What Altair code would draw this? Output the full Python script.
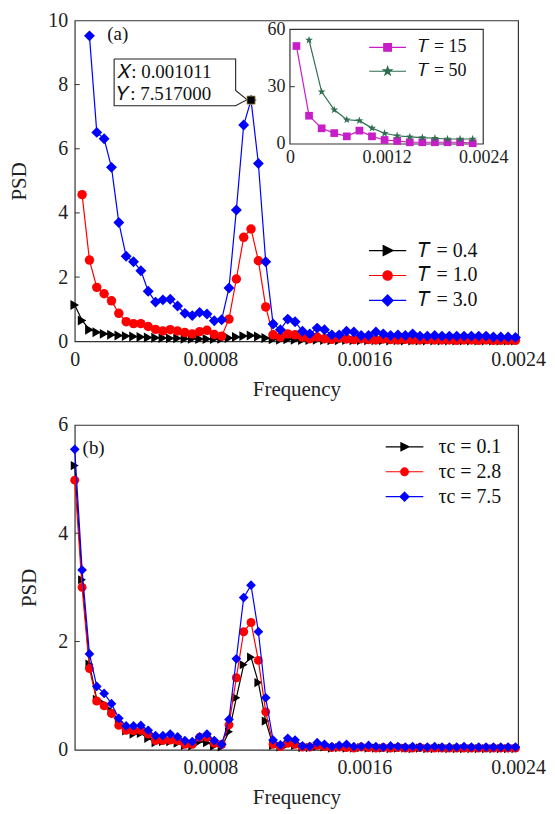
import altair as alt
import pandas as pd

FONT = "Liberation Serif"

# ---------------- data ----------------
# frequency bins (in units of 1e-4)
FREQ_E4 = [0.942, 1.324, 1.706, 2.088, 2.470, 2.852, 3.234, 3.616, 3.998, 4.380,
           4.762, 5.144, 5.526, 5.908, 6.290, 6.672, 7.054, 7.436, 7.818, 8.200,
           8.582, 8.964, 9.346, 9.728, 10.110, 10.492, 10.874, 11.256, 11.638, 12.020,
           12.402, 12.784, 13.166, 13.548, 13.930, 14.312, 14.694, 15.076, 15.458, 15.840,
           16.222, 16.604, 16.986, 17.368, 17.750, 18.132, 18.514, 18.896, 19.278, 19.660,
           20.042, 20.424, 20.806, 21.188, 21.570, 21.952, 22.334, 22.716, 23.098, 23.480,
           23.862]

A_T04 = [1.13, 0.65, 0.36, 0.28, 0.23, 0.20, 0.18, 0.16, 0.15, 0.13,
         0.12, 0.11, 0.10, 0.09, 0.09, 0.08, 0.08, 0.07, 0.07, 0.07,
         0.08, 0.10, 0.13, 0.16, 0.18, 0.15, 0.10, 0.06, 0.05, 0.06,
         0.05, 0.04, 0.04, 0.05, 0.04, 0.03, 0.03, 0.04, 0.03, 0.03,
         0.03, 0.03, 0.03, 0.02, 0.03, 0.02, 0.02, 0.02, 0.02, 0.02,
         0.02, 0.02, 0.02, 0.02, 0.02, 0.02, 0.02, 0.02, 0.02, 0.02,
         0.02]
A_T10 = [None, 4.57, 2.53, 1.68, 1.48, 1.26, 0.87, 0.61, 0.55, 0.55,
         0.46, 0.37, 0.32, 0.36, 0.32, 0.27, 0.23, 0.30, 0.34, 0.21,
         0.16, 0.69, 1.94, 3.24, 3.50, 2.51, 1.07, 0.20, 0.13, 0.23,
         0.20, 0.13, 0.08, 0.13, 0.08, 0.06, 0.10, 0.07, 0.05, 0.08,
         0.05, 0.04, 0.07, 0.05, 0.04, 0.06, 0.04, 0.04, 0.05, 0.04,
         0.04, 0.04, 0.03, 0.04, 0.04, 0.03, 0.04, 0.03, 0.03, 0.03,
         0.03]
A_T30 = [None, None, 9.52, 6.51, 6.31, 5.42, 3.70, 2.65, 2.48, 2.20,
         1.56, 1.22, 1.29, 1.31, 1.10, 0.87, 0.80, 0.90, 0.85, 0.64,
         0.67, 1.66, 4.09, 6.74, 7.517, 5.54, 2.48, 0.54, 0.36, 0.69,
         0.61, 0.31, 0.23, 0.41, 0.36, 0.20, 0.20, 0.31, 0.29, 0.18,
         0.18, 0.29, 0.23, 0.18, 0.20, 0.18, 0.23, 0.16, 0.16, 0.18,
         0.16, 0.16, 0.16, 0.16, 0.16, 0.16, 0.16, 0.13, 0.13, 0.13,
         0.12]

B_01 = [5.25, 3.14, 1.58, 0.93, 0.85, 0.72, 0.52, 0.35, 0.29, 0.30,
        0.21, 0.13, 0.15, 0.15, 0.12, 0.08, 0.07, 0.15, 0.13, 0.07,
        0.05, 0.33, 0.96, 1.57, 1.71, 1.24, 0.53, 0.08, 0.05, 0.10,
        0.08, 0.04, 0.04, 0.06, 0.05, 0.03, 0.04, 0.03, 0.03, 0.04,
        0.03, 0.03, 0.03, 0.02, 0.03, 0.03, 0.02, 0.03, 0.02, 0.02,
        0.03, 0.02, 0.02, 0.02, 0.02, 0.02, 0.02, 0.02, 0.02, 0.02,
        0.02]
B_28 = [4.98, 3.00, 1.50, 0.90, 0.81, 0.67, 0.45, 0.36, 0.35, 0.36,
        0.29, 0.17, 0.17, 0.18, 0.17, 0.10, 0.10, 0.23, 0.23, 0.12,
        0.10, 0.46, 1.33, 2.18, 2.35, 1.65, 0.70, 0.10, 0.06, 0.12,
        0.10, 0.05, 0.05, 0.08, 0.06, 0.04, 0.05, 0.04, 0.03, 0.05,
        0.04, 0.03, 0.04, 0.03, 0.04, 0.03, 0.03, 0.04, 0.03, 0.03,
        0.03, 0.03, 0.03, 0.03, 0.03, 0.03, 0.03, 0.03, 0.03, 0.03,
        0.03]
B_75 = [5.55, 3.32, 1.77, 1.17, 1.04, 0.85, 0.58, 0.44, 0.44, 0.45,
        0.36, 0.26, 0.26, 0.29, 0.24, 0.17, 0.15, 0.24, 0.29, 0.17,
        0.10, 0.56, 1.68, 2.81, 3.04, 2.18, 0.96, 0.18, 0.09, 0.21,
        0.18, 0.07, 0.06, 0.13, 0.10, 0.06, 0.08, 0.10, 0.06, 0.06,
        0.08, 0.06, 0.05, 0.07, 0.06, 0.05, 0.06, 0.05, 0.05, 0.06,
        0.05, 0.05, 0.05, 0.06, 0.05, 0.05, 0.05, 0.05, 0.05, 0.05,
        0.05]

# inset
IN_F15_E4 = [0.808, 2.371, 3.934, 5.497, 7.060, 8.623, 10.186, 11.749, 13.312,
             14.875, 16.438, 18.001, 19.564, 21.127, 22.690]
IN_T15 = [51.3, 14.8, 8.2, 5.7, 4.0, 7.0, 4.0, 2.1, 1.6, 0.9, 0.9, 0.9, 0.9, 0.9, 0.4]
IN_F50_E4 = [2.371, 3.934, 5.497, 7.060, 8.623, 10.186, 11.749, 13.312,
             14.875, 16.438, 18.001, 19.564, 21.127, 22.690]
IN_T50 = [54.4, 27.3, 17.9, 12.7, 12.2, 8.3, 5.6, 4.3, 3.7, 3.3, 3.0, 2.6, 2.6, 2.6]

LEG_A = ["\U0001D447 = 0.4", "\U0001D447 = 1.0", "\U0001D447 = 3.0"]
LEG_B = ["\u03c4c = 0.1", "\u03c4c = 2.8", "\u03c4c = 7.5"]
LEG_IN = ["\U0001D447 = 15", "\U0001D447 = 50"]

COL3 = ["#000000", "#ff0000", "#0000ff"]
COL_IN = ["#c81ec8", "#2f6e50"]

PEAK_X = 0.001011
PEAK_Y = 7.517

XDOM = [0.0000942, 0.0024]
X_TICKS_A = [0.0000942, 0.0008, 0.0016, 0.0024]
X_TICKS_B = [0.0008, 0.0016, 0.0024]
YDOM_A = [0, 10]
Y_TICKS_A = [0, 2, 4, 6, 8, 10]
YDOM_B = [0, 6]
Y_TICKS_B = [0, 2, 4, 6]
IN_XDOM = [0, 0.0024]
IN_X_TICKS = [0, 0.0012, 0.0024]
IN_YDOM = [0, 60]
IN_Y_TICKS = [0, 30, 60]

# data tip annotation (data coordinates)
TIP_BOX_F = [0.000299, 0.000931, 0.000931, 0.000990, 0.000931, 0.000299, 0.000299]
TIP_BOX_P = [8.80, 8.80, 7.82, 7.53, 7.34, 7.34, 8.80]
TIP_TEXT_F = 0.000315
TIP_TEXT_P = [8.40, 7.71]

# ---------------- helpers ----------------
FREQ = [v * 1e-4 for v in FREQ_E4]

STAR = ("M0,-1L0.235,-0.324L0.951,-0.309L0.38,0.124L0.588,0.809L0,0.4"
        "L-0.588,0.809L-0.38,0.124L-0.951,-0.309L-0.235,-0.324Z")
TRI = "M-0.8,-0.9L1,0L-0.8,0.9Z"
CIRC = "M0.85,0A0.85,0.85,0,1,1,-0.85,0A0.85,0.85,0,1,1,0.85,0Z"
DIAM = "M0,-1L1,0L0,1L-1,0Z"
SQR = "M-0.85,-0.85H0.85V0.85H-0.85Z"


def frame(xs, ys):
    return pd.DataFrame({"f": xs, "psd": ys}).dropna()


def series(df, color, shape, size, xs, ys, xa, ya):
    enc = dict(x=alt.X("f:Q", scale=xs, axis=xa), y=alt.Y("psd:Q", scale=ys, axis=ya))
    line = alt.Chart(df).mark_line(color=color, strokeWidth=1.2).encode(**enc)
    pts = alt.Chart(df).mark_point(shape=shape, filled=True, color=color, size=size,
                                   opacity=1, strokeWidth=0.6).encode(**enc)
    return [line, pts]


def inward_ticks(xs, ys, xa, ya, x0, y0, xvals, yvals):
    """Small MATLAB-style ticks pointing into the plot, at the axis tick values."""
    layers = []
    if yvals:
        layers.append(alt.Chart(pd.DataFrame({"f": [x0] * len(yvals), "psd": yvals})).mark_tick(
            orient="horizontal", size=5, thickness=1, xOffset=2.5, color="#333", opacity=1).encode(
            x=alt.X("f:Q", scale=xs, axis=xa), y=alt.Y("psd:Q", scale=ys, axis=ya)))
    if xvals:
        layers.append(alt.Chart(pd.DataFrame({"f": xvals, "psd": [y0] * len(xvals)})).mark_tick(
            orient="vertical", size=5, thickness=1, yOffset=-2.5, color="#333", opacity=1).encode(
            x=alt.X("f:Q", scale=xs, axis=xa), y=alt.Y("psd:Q", scale=ys, axis=ya)))
    return layers


def legend_layer(labels, colors, paths, x, y, size, fsize, loff, rpad):
    def leg():
        return alt.Legend(title=None, orient="none", legendX=x, legendY=y, direction="vertical",
                          symbolSize=size, symbolStrokeWidth=1.2, symbolOpacity=1,
                          labelFont=FONT, labelFontSize=fsize, labelColor="#111",
                          labelOffset=loff, rowPadding=rpad, padding=0)
    return alt.Chart(pd.DataFrame({"lab": labels})).transform_filter("false").mark_point(
        filled=True, opacity=1).encode(
        shape=alt.Shape("lab:N", scale=alt.Scale(domain=labels, range=paths), legend=leg()),
        fill=alt.Fill("lab:N", scale=alt.Scale(domain=labels, range=colors), legend=leg()),
        stroke=alt.Stroke("lab:N", scale=alt.Scale(domain=labels, range=colors), legend=leg()))


LABEL_EXPR = "datum.value < 0.0001 ? '0' : format(datum.value, '.4f')"
INDEP = dict(shape="independent", fill="independent", stroke="independent")

W = 445
Y_TITLE_PAD = 18

# ---------------- panel (a) ----------------
HA = 322
XA = alt.Scale(domain=XDOM, nice=False, zero=False)
YA = alt.Scale(domain=YDOM_A, nice=False)
xax_a = alt.Axis(values=X_TICKS_A, labelExpr=LABEL_EXPR, title="Frequency", labelFlush=False,
                 labelOverlap=False, labelPadding=8, titlePadding=9)
yax_a = alt.Axis(values=Y_TICKS_A, title="PSD", labelPadding=7, titlePadding=Y_TITLE_PAD)

main_layers = inward_ticks(XA, YA, xax_a, yax_a, XDOM[0], YDOM_A[0],
                           X_TICKS_A[1:-1], Y_TICKS_A[1:-1])
main_layers += series(frame(FREQ, A_T04), COL3[0], "triangle-right", 100, XA, YA, xax_a, yax_a)
main_layers += series(frame(FREQ, A_T10), COL3[1], "circle", 90, XA, YA, xax_a, yax_a)
main_layers += series(frame(FREQ, A_T30), COL3[2], "diamond", 120, XA, YA, xax_a, yax_a)

enc_a = dict(x=alt.X("f:Q", scale=XA, axis=xax_a), y=alt.Y("psd:Q", scale=YA, axis=yax_a))
tip_box = alt.Chart(pd.DataFrame({"f": TIP_BOX_F, "psd": TIP_BOX_P, "o": list(range(len(TIP_BOX_F)))})
                    ).mark_line(color="#222", strokeWidth=1.1).encode(order="o:Q", **enc_a)
tip_text = alt.Chart(pd.DataFrame({"f": [TIP_TEXT_F] * 2, "psd": TIP_TEXT_P,
                                   "t": ["\U0001D44B: %.6f" % PEAK_X, "\U0001D44C: %.6f" % PEAK_Y]})
                     ).mark_text(align="left", baseline="middle", font=FONT, fontSize=19,
                                 color="#111").encode(text="t:N", **enc_a)
tip_pt = alt.Chart(pd.DataFrame({"f": [PEAK_X], "psd": [PEAK_Y]})).mark_point(
    shape="square", filled=True, color="#000", size=70, stroke="#d8c070", strokeWidth=0.8,
    opacity=1).encode(**enc_a)
lab_a = alt.Chart(pd.DataFrame({"f": [0.000263], "psd": [9.57], "t": ["(a)"]})).mark_text(
    align="left", baseline="middle", font=FONT, fontSize=19, color="#111").encode(text="t:N", **enc_a)
leg_a = legend_layer(LEG_A, COL3, ["M-3.4,0H3.4" + TRI, "M-3.4,0H3.4" + CIRC, "M-3.4,0H3.4" + DIAM],
                     304, 221, 121, 20, 21, 5)

main_a = alt.layer(*main_layers, tip_box, tip_text, tip_pt, lab_a, leg_a)

# inset
IN_LEFT, IN_RIGHT = 216, 410
IN_TOP, IN_BOT = 9, 124
IX = alt.Scale(domain=IN_XDOM, range=[IN_LEFT, IN_RIGHT], nice=False, zero=False)
IY = alt.Scale(domain=IN_YDOM, range=[IN_BOT, IN_TOP], nice=False)
ixa = alt.Axis(orient="bottom", offset=-(HA - IN_BOT), values=IN_X_TICKS,
               labelExpr="datum.value == 0 ? '0' : format(datum.value, '.4f')", title=None,
               labelFlush=False, labelOverlap=False, labelFontSize=18, labelPadding=5)
iya = alt.Axis(orient="left", offset=-IN_LEFT, values=IN_Y_TICKS, title=None, labelFontSize=18,
               labelPadding=5)
in_frame = alt.Chart(pd.DataFrame({"f": [IN_XDOM[0]], "f2": [IN_XDOM[1]],
                                   "psd": [IN_YDOM[0]], "psd2": [IN_YDOM[1]]})).mark_rect(
    fill="white", stroke="#333", strokeWidth=1.2).encode(
    x=alt.X("f:Q", scale=IX, axis=ixa), x2="f2:Q", y=alt.Y("psd:Q", scale=IY, axis=iya), y2="psd2:Q")
in_layers = inward_ticks(IX, IY, ixa, iya, IN_XDOM[0], IN_YDOM[0], [], IN_Y_TICKS[1:-1])
in_layers += series(frame([v * 1e-4 for v in IN_F15_E4], IN_T15), COL_IN[0], "square", 60, IX, IY, ixa, iya)
in_layers += series(frame([v * 1e-4 for v in IN_F50_E4], IN_T50), COL_IN[1], STAR, 70, IX, IY, ixa, iya)
leg_in = legend_layer(LEG_IN, COL_IN, ["M-4.1,0H4.1" + SQR, "M-4.1,0H4.1" + STAR],
                      305, 18, 81, 18, 22, 6)
inset = alt.layer(in_frame, *in_layers, leg_in)

panel_a = alt.layer(main_a, inset).resolve_scale(
    x="independent", y="independent", **INDEP).properties(width=W, height=HA)

# ---------------- panel (b) ----------------
HB = 326
YB = alt.Scale(domain=YDOM_B, nice=False)
xax_b = alt.Axis(values=X_TICKS_B, format=".4f", title="Frequency", labelFlush=False,
                 labelOverlap=False, labelPadding=8, titlePadding=9)
yax_b = alt.Axis(values=Y_TICKS_B, title="PSD", labelPadding=7, titlePadding=Y_TITLE_PAD)
b_layers = inward_ticks(XA, YB, xax_b, yax_b, XDOM[0], YDOM_B[0], X_TICKS_B[:-1], Y_TICKS_B[1:-1])
b_layers += series(frame(FREQ, B_01), COL3[0], "triangle-right", 85, XA, YB, xax_b, yax_b)
b_layers += series(frame(FREQ, B_28), COL3[1], "circle", 80, XA, YB, xax_b, yax_b)
b_layers += series(frame(FREQ, B_75), COL3[2], "diamond", 95, XA, YB, xax_b, yax_b)
enc_b = dict(x=alt.X("f:Q", scale=XA, axis=xax_b), y=alt.Y("psd:Q", scale=YB, axis=yax_b))
lab_b = alt.Chart(pd.DataFrame({"f": [0.000135], "psd": [5.58], "t": ["(b)"]})).mark_text(
    align="left", baseline="middle", font=FONT, fontSize=19, color="#111").encode(text="t:N", **enc_b)
leg_b = legend_layer(LEG_B, COL3, ["M-4.2,0H4.2" + TRI, "M-4.2,0H4.2" + CIRC, "M-4.2,0H4.2" + DIAM],
                     321, 12, 81, 20, 24, 5)
panel_b = alt.layer(*b_layers, lab_b, leg_b).properties(width=W, height=HB)

chart = alt.vconcat(panel_a, panel_b, spacing=14).resolve_scale(**INDEP).configure_view(
    stroke="#333", strokeWidth=1.2).configure_axis(
    labelFont=FONT, titleFont=FONT, labelFontSize=20, titleFontSize=21, titleFontWeight="normal",
    labelColor="#222", titleColor="#222", grid=False, domain=False, ticks=False, tickSize=0
).properties(padding=0, background="white")

chart.save("out.html", embed_options={"renderer": "svg", "actions": False})
